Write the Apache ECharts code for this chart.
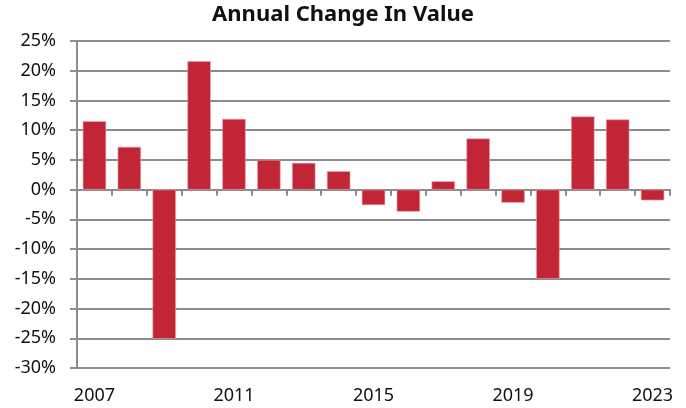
<!DOCTYPE html>
<html>
<head>
<meta charset="utf-8">
<script src="https://cdn.jsdelivr.net/npm/echarts@6/dist/echarts.min.js"></script>
<style>
  html, body { margin: 0; padding: 0; background: #fff; }
  #chart { width: 686px; height: 408px; }
</style>
</head>
<body>
<div id="chart"></div>
<script>
const years = ['2007', '2008', '2009', '2010', '2011', '2012', '2013', '2014', '2015',
  '2016', '2017', '2018', '2019', '2020', '2021', '2022', '2023']
const changePct = [11.5, 7.2, -25.1, 21.6, 11.9, 5.0, 4.5, 3.1, -2.6,
  -3.7, 1.4, 8.6, -2.2, -15.0, 12.3, 11.8, -1.8]

const gridColor = '#8c8c8c'
const font = 'Noto Sans'

const chart = echarts.init(document.getElementById('chart'))
chart.setOption({
  animation: false,
  title: {
    text: 'Annual Change In Value',
    left: 'center',
    top: -1,
    textStyle: { fontFamily: font, fontWeight: 'bold', fontSize: 22, color: '#111' }
  },
  grid: { left: 77, right: 16, top: 41, bottom: 40 },
  xAxis: [
    {
      type: 'category',
      data: years,
      position: 'bottom',
      axisLine: { show: false, onZero: false },
      axisTick: { show: false },
      axisLabel: { interval: 3, margin: 19, fontFamily: font, fontSize: 18, color: '#111' }
    },
    {
      type: 'category',
      data: years,
      position: 'bottom',
      axisLine: { onZero: true, lineStyle: { color: gridColor, width: 2 } },
      axisTick: { show: true, interval: 0, length: 6, lineStyle: { color: gridColor, width: 2 } },
      axisLabel: { show: false }
    }
  ],
  yAxis: {
    type: 'value',
    min: -30,
    max: 25,
    interval: 5,
    axisLine: { show: true, lineStyle: { color: gridColor, width: 2 } },
    axisTick: { show: true, length: 7, lineStyle: { color: gridColor, width: 2 } },
    splitLine: { lineStyle: { color: gridColor, width: 2 } },
    axisLabel: { formatter: '{value}%', margin: 21, fontFamily: font, fontSize: 18, color: '#111' }
  },
  series: [{
    type: 'bar',
    xAxisIndex: 0,
    data: changePct,
    barWidth: '67%',
    itemStyle: { color: '#c22535', borderColor: '#e7a3ab', borderWidth: 0.6 }
  }]
})
</script>
</body>
</html>
